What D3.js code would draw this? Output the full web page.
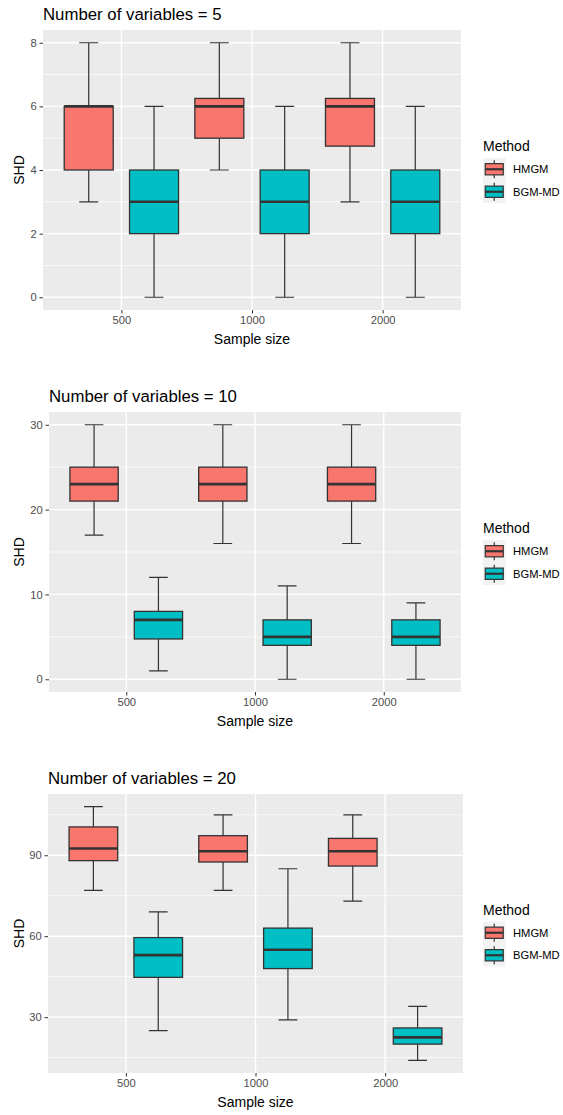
<!DOCTYPE html>
<html>
<head>
<meta charset="utf-8">
<script src="https://cdn.jsdelivr.net/npm/d3@7"></script>
<style>
  body { margin: 0; background: #fff; }
  text { font-family: "Liberation Sans", Arial, sans-serif; }
</style>
</head>
<body>
<div id="chart"></div>
<script>
'use strict'

// Data: box stats are [lower whisker, Q1, median, Q3, upper whisker].
const sampleSizes = ['500', '1000', '2000'];
const methods = ['HMGM', 'BGM-MD'];
const panelTitles = ['Number of variables = 5', 'Number of variables = 10', 'Number of variables = 20'];

const hmgm5 = [[3, 4, 6, 6, 8], [4, 5, 6, 6.25, 8], [3, 4.75, 6, 6.25, 8]];
const bgm5 = [[0, 2, 3, 4, 6], [0, 2, 3, 4, 6], [0, 2, 3, 4, 6]];
const hmgm10 = [[17, 21, 23, 25, 30], [16, 21, 23, 25, 30], [16, 21, 23, 25, 30]];
const bgm10 = [[1, 4.75, 7, 8, 12], [0, 4, 5, 7, 11], [0, 4, 5, 7, 9]];
const hmgm20 = [[77, 88, 92.5, 100.5, 108], [77, 87.5, 91.5, 97.25, 105], [73, 86, 91.5, 96.25, 105]];
const bgm20 = [[25, 44.75, 53, 59.5, 69], [29, 48, 55, 63, 85], [14, 20, 22.5, 26, 34]];

const yTicks5 = [0, 2, 4, 6, 8];
const yMinor5 = [1, 3, 5, 7];
const yTicks10 = [0, 10, 20, 30];
const yMinor10 = [5, 15, 25];
const yTicks20 = [30, 60, 90];
const yMinor20 = [15, 45, 75, 105];

// Layout (pixels) for each of the three stacked plots.
const layout = [
    {left: 43, right: 461, top: 30, bottom: 310},
    {left: 49, right: 461, top: 412, bottom: 692},
    {left: 48, right: 463, top: 794, bottom: 1073}
];

const panels = [
    {title: panelTitles[0], series: [hmgm5, bgm5], ticks: yTicks5, minor: yMinor5},
    {title: panelTitles[1], series: [hmgm10, bgm10], ticks: yTicks10, minor: yMinor10},
    {title: panelTitles[2], series: [hmgm20, bgm20], ticks: yTicks20, minor: yMinor20}
];

const colors = d3.scaleOrdinal().domain(methods).range(['#F8766D', '#00BFC4']);
const width = 563, height = 1115;
const dodge = 0.25, boxW = 0.375, capW = 0.145;

const svg = d3.select('#chart')
    .append('svg')
        .attr('width', width)
        .attr('height', height)
        .attr('viewBox', [0, 0, width, height]);

panels.forEach((p, i) => {
    const L = layout[i];
    const g = svg.append('g');

    // Flatten box stats with method + sample size.
    const boxes = [];
    p.series.forEach((s, m) => s.forEach((v, k) => boxes.push({
        method: methods[m], size: sampleSizes[k],
        lo: v[0], q1: v[1], med: v[2], q3: v[3], hi: v[4]
    })));

    const lo = d3.min(boxes, d => d.lo), hi = d3.max(boxes, d => d.hi);
    const pad = (hi - lo) * 0.05;

    const x = d3.scalePoint()
        .domain(sampleSizes)
        .range([L.left, L.right])
        .padding(0.6);
    const step = x.step();

    const y = d3.scaleLinear()
        .domain([lo - pad, hi + pad])
        .range([L.bottom, L.top]);

    // Panel background and grid.
    g.append('rect')
        .attr('x', L.left).attr('y', L.top)
        .attr('width', L.right - L.left).attr('height', L.bottom - L.top)
        .attr('fill', '#EBEBEB');

    g.selectAll('line.minor')
        .data(p.minor)
        .join('line')
            .attr('class', 'minor')
            .attr('x1', L.left).attr('x2', L.right)
            .attr('y1', d => y(d)).attr('y2', d => y(d))
            .attr('stroke', '#fff').attr('stroke-width', 0.7);

    g.selectAll('line.major')
        .data(p.ticks)
        .join('line')
            .attr('class', 'major')
            .attr('x1', L.left).attr('x2', L.right)
            .attr('y1', d => y(d)).attr('y2', d => y(d))
            .attr('stroke', '#fff').attr('stroke-width', 1.4);

    g.selectAll('line.vgrid')
        .data(sampleSizes)
        .join('line')
            .attr('class', 'vgrid')
            .attr('x1', d => x(d)).attr('x2', d => x(d))
            .attr('y1', L.top).attr('y2', L.bottom)
            .attr('stroke', '#fff').attr('stroke-width', 1.4);

    // Axes.
    const yAxis = d3.axisLeft(y).tickValues(p.ticks).tickSize(3.5).tickPadding(2.8);
    const xAxis = d3.axisBottom(x).tickSize(3.5).tickPadding(2.8);

    g.append('g')
        .attr('transform', `translate(${L.left},0)`)
        .call(yAxis)
        .call(a => a.select('.domain').remove())
        .call(a => a.selectAll('.tick line').attr('stroke', '#333333').attr('stroke-width', 1))
        .call(a => a.selectAll('.tick text')
            .attr('fill', '#4D4D4D').style('font-size', '11.2px')
            .style('font-family', '"Liberation Sans", Arial, sans-serif'));

    g.append('g')
        .attr('transform', `translate(0,${L.bottom})`)
        .call(xAxis)
        .call(a => a.select('.domain').remove())
        .call(a => a.selectAll('.tick line').attr('stroke', '#333333').attr('stroke-width', 1))
        .call(a => a.selectAll('.tick text')
            .attr('fill', '#4D4D4D').style('font-size', '11.2px')
            .style('font-family', '"Liberation Sans", Arial, sans-serif'));

    // Boxplots.
    const cx = d => x(d.size) + (d.method === methods[0] ? -dodge : dodge) * step;
    const bg = g.append('g').attr('stroke', '#333333');

    bg.selectAll('line.whisk')
        .data(boxes)
        .join('path')
            .attr('class', 'whisk')
            .attr('fill', 'none')
            .attr('stroke-width', 1.2)
            .attr('d', d => {
                const c = cx(d), h = capW * step / 2;
                return `M${c},${y(d.lo)}V${y(d.q1)}M${c},${y(d.q3)}V${y(d.hi)}` +
                    `M${c - h},${y(d.lo)}H${c + h}M${c - h},${y(d.hi)}H${c + h}`;
            });

    bg.selectAll('rect.box')
        .data(boxes)
        .join('rect')
            .attr('class', 'box')
            .attr('x', d => cx(d) - boxW * step / 2)
            .attr('width', boxW * step)
            .attr('y', d => y(d.q3))
            .attr('height', d => y(d.q1) - y(d.q3))
            .attr('fill', d => colors(d.method))
            .attr('stroke-width', 1.3);

    bg.selectAll('line.median')
        .data(boxes)
        .join('line')
            .attr('class', 'median')
            .attr('x1', d => cx(d) - boxW * step / 2)
            .attr('x2', d => cx(d) + boxW * step / 2)
            .attr('y1', d => y(d.med)).attr('y2', d => y(d.med))
            .attr('stroke-width', 2.6);

    // Titles.
    g.append('text')
        .attr('x', L.left).attr('y', L.top - 10)
        .attr('fill', '#000').style('font-size', '16.8px')
        .text(p.title);

    g.append('text')
        .attr('x', (L.left + L.right) / 2).attr('y', L.bottom + 34)
        .attr('text-anchor', 'middle')
        .attr('fill', '#000').style('font-size', '14px')
        .text('Sample size');

    g.append('text')
        .attr('transform', `translate(24,${(L.top + L.bottom) / 2}) rotate(-90)`)
        .attr('text-anchor', 'middle')
        .attr('fill', '#000').style('font-size', '14px')
        .text('SHD');

    // Legend.
    const mid = (L.top + L.bottom) / 2;
    const lg = g.append('g').attr('transform', `translate(483,${mid - 12})`);
    const ks = 22.5;

    lg.append('text')
        .attr('x', 0).attr('y', -7)
        .attr('fill', '#000').style('font-size', '14px')
        .text('Method');

    const keys = lg.selectAll('g.key')
        .data(methods)
        .join('g')
            .attr('class', 'key')
            .attr('transform', (d, k) => `translate(0,${k * ks})`);

    keys.append('rect')
        .attr('width', ks).attr('height', ks)
        .attr('fill', '#F2F2F2');

    keys.append('path')
        .attr('stroke', '#333333').attr('stroke-width', 1.2)
        .attr('d', `M${ks / 2},${ks * 0.1}V${ks * 0.25}M${ks / 2},${ks * 0.75}V${ks * 0.9}`);

    keys.append('rect')
        .attr('x', ks * 0.1).attr('y', ks * 0.25)
        .attr('width', ks * 0.8).attr('height', ks * 0.5)
        .attr('fill', d => colors(d))
        .attr('stroke', '#333333').attr('stroke-width', 1.2);

    keys.append('line')
        .attr('x1', ks * 0.1).attr('x2', ks * 0.9)
        .attr('y1', ks / 2).attr('y2', ks / 2)
        .attr('stroke', '#333333').attr('stroke-width', 2.2);

    keys.append('text')
        .attr('x', 30).attr('y', ks / 2)
        .attr('dy', '0.35em')
        .attr('fill', '#000').style('font-size', '11.2px')
        .text(d => d);
});
</script>
</body>
</html>
